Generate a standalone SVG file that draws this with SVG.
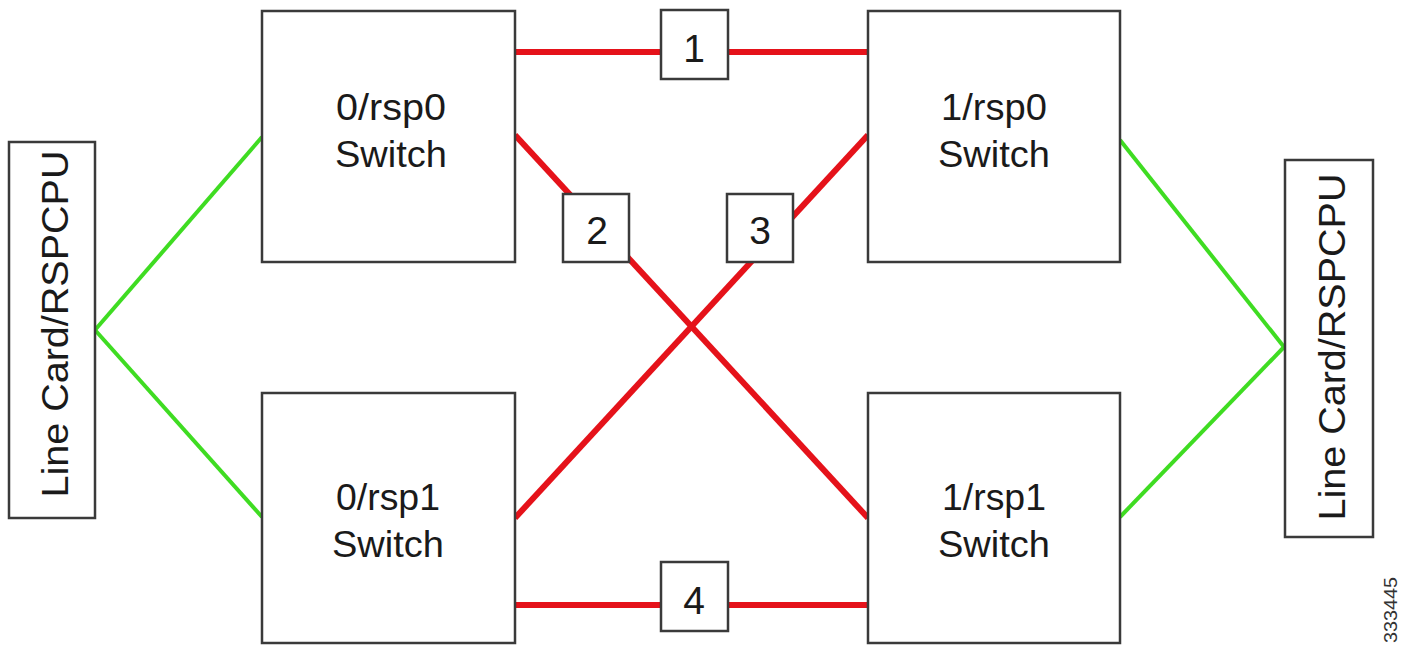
<svg xmlns="http://www.w3.org/2000/svg" width="1412" height="645" viewBox="0 0 1412 645">
<style>
.box{fill:#fff;stroke:#3a3a3a;stroke-width:2.5}
.lbl{fill:#fff;stroke:#3a3a3a;stroke-width:2.5}
.red{stroke:#e5121a;stroke-width:6;fill:none}
.grn{stroke:#3fdc22;stroke-width:4;fill:none}
.t{font-family:"Liberation Sans",Arial,sans-serif;font-size:37px;fill:#1a1a1a;text-anchor:middle}
.n{font-family:"Liberation Sans",Arial,sans-serif;font-size:39px;fill:#1a1a1a;text-anchor:middle}
.lc{font-family:"Liberation Sans",Arial,sans-serif;font-size:37px;fill:#1a1a1a;text-anchor:middle}
.id{font-family:"Liberation Sans",Arial,sans-serif;font-size:18px;fill:#333;text-anchor:end}
</style>
<rect width="1412" height="645" fill="#fff"/>
<g id="connectors">
<line class="grn" x1="95" y1="330" x2="262" y2="137"/>
<line class="grn" x1="95" y1="330" x2="262" y2="517"/>
<line class="grn" x1="1284" y1="347" x2="1120" y2="140"/>
<line class="grn" x1="1284" y1="347" x2="1120" y2="517"/>
<line class="red" x1="515" y1="52" x2="868" y2="52"/>
<line class="red" x1="515" y1="135" x2="868" y2="518"/>
<line class="red" x1="868" y1="135" x2="515" y2="518"/>
<line class="red" x1="515" y1="605" x2="868" y2="605"/>
</g>
<g id="lc-left">
<rect class="box" x="9" y="142" width="86" height="376"/>
<text class="lc" transform="translate(68,324) rotate(-90)" textLength="347" lengthAdjust="spacingAndGlyphs">Line Card/RSPCPU</text>
</g>
<g id="lc-right">
<rect class="box" x="1285" y="160" width="88" height="377"/>
<text class="lc" transform="translate(1345,347) rotate(-90)" textLength="347" lengthAdjust="spacingAndGlyphs">Line Card/RSPCPU</text>
</g>
<g id="sw-0-rsp0">
<rect class="box" x="262" y="11" width="253" height="251"/>
<text class="t" x="391" y="120" textLength="110" lengthAdjust="spacingAndGlyphs">0/rsp0</text>
<text class="t" x="391" y="167" textLength="112" lengthAdjust="spacingAndGlyphs">Switch</text>
</g>
<g id="sw-1-rsp0">
<rect class="box" x="868" y="11" width="252" height="251"/>
<text class="t" x="994" y="120" textLength="106" lengthAdjust="spacingAndGlyphs">1/rsp0</text>
<text class="t" x="994" y="167" textLength="112" lengthAdjust="spacingAndGlyphs">Switch</text>
</g>
<g id="sw-0-rsp1">
<rect class="box" x="262" y="393" width="253" height="250"/>
<text class="t" x="388" y="510" textLength="104" lengthAdjust="spacingAndGlyphs">0/rsp1</text>
<text class="t" x="388" y="557" textLength="112" lengthAdjust="spacingAndGlyphs">Switch</text>
</g>
<g id="sw-1-rsp1">
<rect class="box" x="868" y="393" width="252" height="250"/>
<text class="t" x="994" y="510" textLength="104" lengthAdjust="spacingAndGlyphs">1/rsp1</text>
<text class="t" x="994" y="557" textLength="112" lengthAdjust="spacingAndGlyphs">Switch</text>
</g>
<g id="label-1">
<rect class="lbl" x="661" y="10" width="67" height="69"/>
<text class="n" x="694" y="62">1</text>
</g>
<g id="label-2">
<rect class="lbl" x="563" y="194" width="66" height="68"/>
<text class="n" x="597" y="244">2</text>
</g>
<g id="label-3">
<rect class="lbl" x="727" y="194" width="66" height="68"/>
<text class="n" x="760" y="244">3</text>
</g>
<g id="label-4">
<rect class="lbl" x="661" y="562" width="67" height="69"/>
<text class="n" x="694" y="614">4</text>
</g>
<text class="id" transform="translate(1397,577) rotate(-90)" textLength="66" lengthAdjust="spacingAndGlyphs">333445</text>
</svg>
